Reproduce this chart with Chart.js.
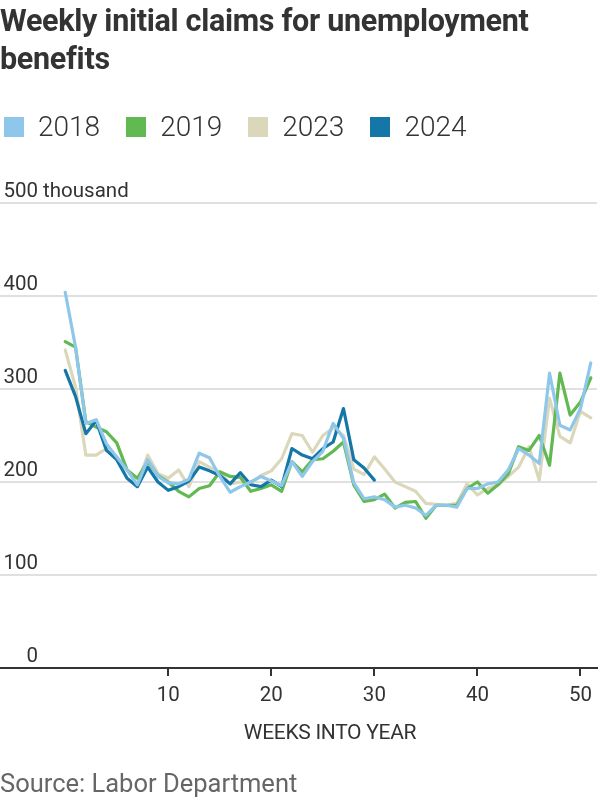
<!DOCTYPE html>
<html>
<head>
<meta charset="utf-8">
<script src="https://cdn.jsdelivr.net/npm/chart.js@4"></script>
<style>
  body { margin: 0; background: #fff; font-family: Roboto, "Noto Sans", sans-serif; color: #333; }
  #wrap { position: relative; width: 600px; height: 800px; overflow: hidden; }
  #title { position: absolute; left: 0; top: 2px; width: 600px; font-weight: 700; font-size: 30.5px; line-height: 38px; color: #333; letter-spacing: -0.3px; }
  #legend { position: absolute; left: 4px; top: 110px; display: flex; align-items: center; }
  .item { display: flex; align-items: center; margin-right: 26px; font-size: 28px; font-weight: 300; color: #333; }
  .sw { width: 20px; height: 20px; margin-right: 14px; }
  #xtitle { position: absolute; left: 210px; top: 720px; width: 240px; text-align: center; font-size: 21px; color: #333; letter-spacing: -0.3px; }
  #source { position: absolute; left: 0; top: 768px; font-size: 25.5px; color: #666; }
  canvas { position: absolute; left: 0; top: 0; }
</style>
</head>
<body>
<div id="wrap">
  <canvas id="grafico" width="600" height="800"></canvas>
  <div id="title">Weekly initial claims for unemployment<br>benefits</div>
  <div id="legend"></div>
  <div id="xtitle">WEEKS INTO YEAR</div>
  <div id="source">Source: Labor Department</div>
</div>
<script>
// semanas 0..51, valores em milhares
const anos = ['2018', '2019', '2023', '2024'];
const cores = ['#8fc7ea', '#62b851', '#dbd7ba', '#1577a8'];
const yTicks = [0, 100, 200, 300, 400, 500];
const xTicks = [10, 20, 30, 40, 50];

const semanas = [];
for (let i = 0; i < 52; i++) semanas.push(i);

const s2018 = [404, 345, 263, 267, 241, 227, 213, 197, 224, 206, 199, 198, 203, 231, 226, 206, 189, 195, 200, 206,
  201, 196, 222, 206, 222, 233, 263, 247, 199, 182, 184, 181, 173, 175, 172, 164, 175, 175, 173, 193,
  193, 198, 200, 213, 236, 229, 220, 317, 261, 256, 279, 328];
const s2019 = [351, 345, 265, 259, 254, 242, 213, 204, 222, 207, 200, 190, 184, 193, 196, 211, 206, 205, 190, 193,
  197, 190, 222, 211, 224, 225, 233, 243, 197, 179, 181, 187, 172, 178, 179, 161, 175, 175, 175, 193,
  200, 188, 197, 209, 238, 234, 250, 218, 317, 272, 286, 312];
const s2023 = [342, 302, 229, 229, 236, 227, 213, 197, 229, 209, 204, 213, 195, 222, 216, 210, 198, 200, 198, 207,
  212, 225, 252, 250, 232, 250, 258, 250, 214, 208, 227, 214, 200, 195, 190, 177, 176, 175, 177, 198,
  186, 193, 197, 206, 216, 238, 202, 290, 249, 242, 276, 269];
const s2024 = [320, 292, 252, 266, 234, 224, 204, 195, 216, 200, 191, 195, 201, 216, 212, 207, 198, 210, 197, 195,
  202, 195, 236, 229, 225, 236, 243, 279, 224, 215, 202];

const series = [s2018, s2019, s2023, s2024];
const ordem = [0, 2, 3, 1]; // 2018 por cima, depois 2024

// legenda em html
const leg = document.getElementById('legend');
anos.forEach((a, i) => {
  const it = document.createElement('div');
  it.className = 'item';
  it.innerHTML = '<span class="sw" style="background:' + cores[i] + '"></span>' + a;
  leg.appendChild(it);
});

const rotulosY = {
  id: 'rotulosY',
  afterDraw(chart) {
    const ctx = chart.ctx;
    const y = chart.scales.y;
    ctx.save();
    ctx.font = '20.5px Roboto, "Noto Sans", sans-serif';
    ctx.fillStyle = '#333';
    ctx.textAlign = 'left';
    ctx.textBaseline = 'alphabetic';
    yTicks.forEach(v => {
      const txt = v === 500 ? v + ' thousand' : String(v);
      const w = ctx.measureText(String(v)).width;
      ctx.fillText(txt, 38 - w, y.getPixelForValue(v) - 6);
    });
    ctx.restore();
  }
};

const datasets = anos.map((a, i) => ({
  label: a,
  data: series[i].map((v, k) => ({ x: semanas[k], y: v })),
  borderColor: cores[i],
  backgroundColor: cores[i],
  borderWidth: 3.2,
  pointRadius: 0,
  tension: 0,
  borderJoinStyle: 'round',
  borderCapStyle: 'round',
  order: ordem[i]
}));

new Chart(document.getElementById('grafico'), {
  type: 'line',
  data: { datasets },
  options: {
    responsive: false,
    animation: false,
    layout: { padding: { top: 203, bottom: 72, left: 0, right: 0 } },
    plugins: { legend: { display: false }, tooltip: { enabled: false } },
    scales: {
      x: {
        type: 'linear',
        min: -6.33,
        max: 51.6,
        afterBuildTicks: s => { s.ticks = xTicks.map(v => ({ value: v })); },
        afterFit: s => { s.height = 60; },
        ticks: { color: '#333', font: { size: 20.5, family: 'Roboto' }, padding: 8, maxRotation: 0 },
        grid: { drawOnChartArea: false, drawTicks: true, tickLength: 8, color: '#333', lineWidth: 2 },
        border: { display: true, color: '#333', width: 2 }
      },
      y: {
        min: 0,
        max: 500,
        afterBuildTicks: s => { s.ticks = yTicks.map(v => ({ value: v })); },
        afterFit: s => { s.width = 0; },
        ticks: { display: false },
        grid: {
          drawTicks: false,
          lineWidth: 2,
          color: c => (c.tick && c.tick.value === 0) ? 'rgba(0,0,0,0)' : '#e0e0e0'
        },
        border: { display: false }
      }
    }
  },
  plugins: [rotulosY]
});
</script>
</body>
</html>
